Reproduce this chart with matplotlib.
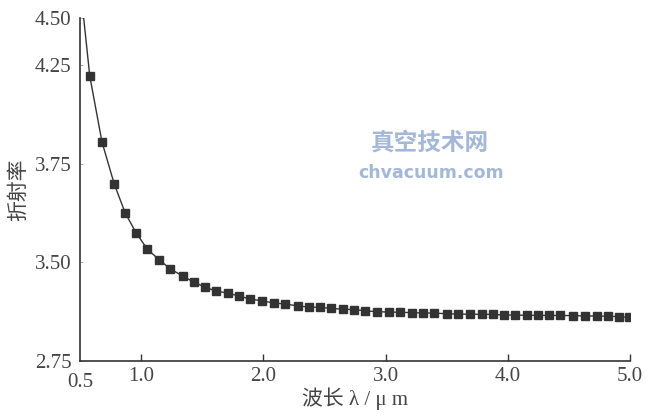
import numpy as np
import matplotlib
matplotlib.use("Agg")
import matplotlib.pyplot as plt

# wavelength (um) and refractive index
wavelength = [0.58, 0.68, 0.78, 0.87, 0.96, 1.05, 1.15, 1.24, 1.34, 1.43,
              1.52, 1.61, 1.71, 1.80, 1.89, 1.99, 2.09, 2.18, 2.28, 2.37,
              2.46, 2.55, 2.65, 2.74, 2.83, 2.93, 3.03, 3.12, 3.22, 3.31,
              3.40, 3.50, 3.59, 3.69, 3.79, 3.88, 3.97, 4.06, 4.16, 4.25,
              4.34, 4.43, 4.53, 4.63, 4.73, 4.82, 4.91, 4.99]
index = [4.194, 3.861, 3.699, 3.625, 3.574, 3.533, 3.505, 3.447, 3.394, 3.348,
         3.311, 3.280, 3.265, 3.242, 3.220, 3.205, 3.189, 3.182, 3.167, 3.159,
         3.157, 3.149, 3.142, 3.140, 3.131, 3.123, 3.121, 3.119, 3.116, 3.114,
         3.113, 3.108, 3.106, 3.104, 3.104, 3.103, 3.098, 3.098, 3.096, 3.096,
         3.095, 3.095, 3.094, 3.091, 3.091, 3.089, 3.086, 3.081]
# the curve runs in from the top of the axis before the first marker
curve_start = (0.53, 4.50)

x_ticks = [1.0, 2.0, 3.0, 4.0, 5.0]
y_ticks = [2.75, 3.50, 3.75, 4.25, 4.50]

# the printed y axis is not evenly spaced, so rebuild it piecewise
y_rows = [0, 99, 197, 296, 343]


def fwd(v):
    return np.interp(v, y_ticks, y_rows)


def inv(p):
    return np.interp(p, y_rows, y_ticks)


plt.rcParams['font.family'] = ['Liberation Serif', 'Noto Sans CJK SC']
ink = '#333333'
label_ink = '#444444'

fig = plt.figure(figsize=(6.57, 4.18), dpi=100)
ax = fig.add_axes([80/657, 57/418, 550/657, 343/418])
ax.set_yscale('function', functions=(fwd, inv))
ax.set_xlim(0.5, 5.0)
ax.set_ylim(2.75, 4.50)

ax.plot([curve_start[0]] + wavelength, [curve_start[1]] + index,
        color=ink, lw=1.0)
ax.plot(wavelength, index, 's', color=ink, ms=5.3, mec=ink)

for s in ['top', 'right']:
    ax.spines[s].set_visible(False)
for s in ['left', 'bottom']:
    ax.spines[s].set_color(ink)
    ax.spines[s].set_linewidth(1.2)

ax.set_xticks(x_ticks)
ax.set_xticklabels([f"{t:.1f}" for t in x_ticks])
ax.set_yticks(y_ticks)
ax.set_yticklabels([f"{t:.2f}" for t in y_ticks])
ax.tick_params(axis='x', direction='in', length=5, width=1, colors=ink,
               labelcolor=label_ink, labelsize=15, pad=4)
ax.tick_params(axis='y', direction='in', length=2, width=0.6, colors='#999999',
               labelcolor=label_ink, labelsize=15, pad=6)
ax.minorticks_off()

# the 0.5 label sits under the corner
ax.text(0.5, -0.035, "0.5", transform=ax.get_xaxis_transform(),
        ha='center', va='top', fontsize=15, color=label_ink)

ax.set_xlabel("波长 λ / μ m", fontsize=15, color=label_ink, labelpad=1)
ax.set_ylabel("折射率", fontsize=15, color=label_ink, labelpad=4,
              family=['Noto Sans CJK SC', 'Liberation Serif'])

# site watermark
fig.text(0.655, 0.658, "真空技术网", ha='center', va='center', fontsize=17,
         color='#a3b8d8', family=['Noto Sans CJK SC'], fontweight='bold')
fig.text(0.656, 0.586, "chvacuum.com", ha='center', va='center', fontsize=12.5,
         color='#a3b8d8', family=['DejaVu Sans'], fontweight='bold')

fig.savefig("out.png", dpi=100)
